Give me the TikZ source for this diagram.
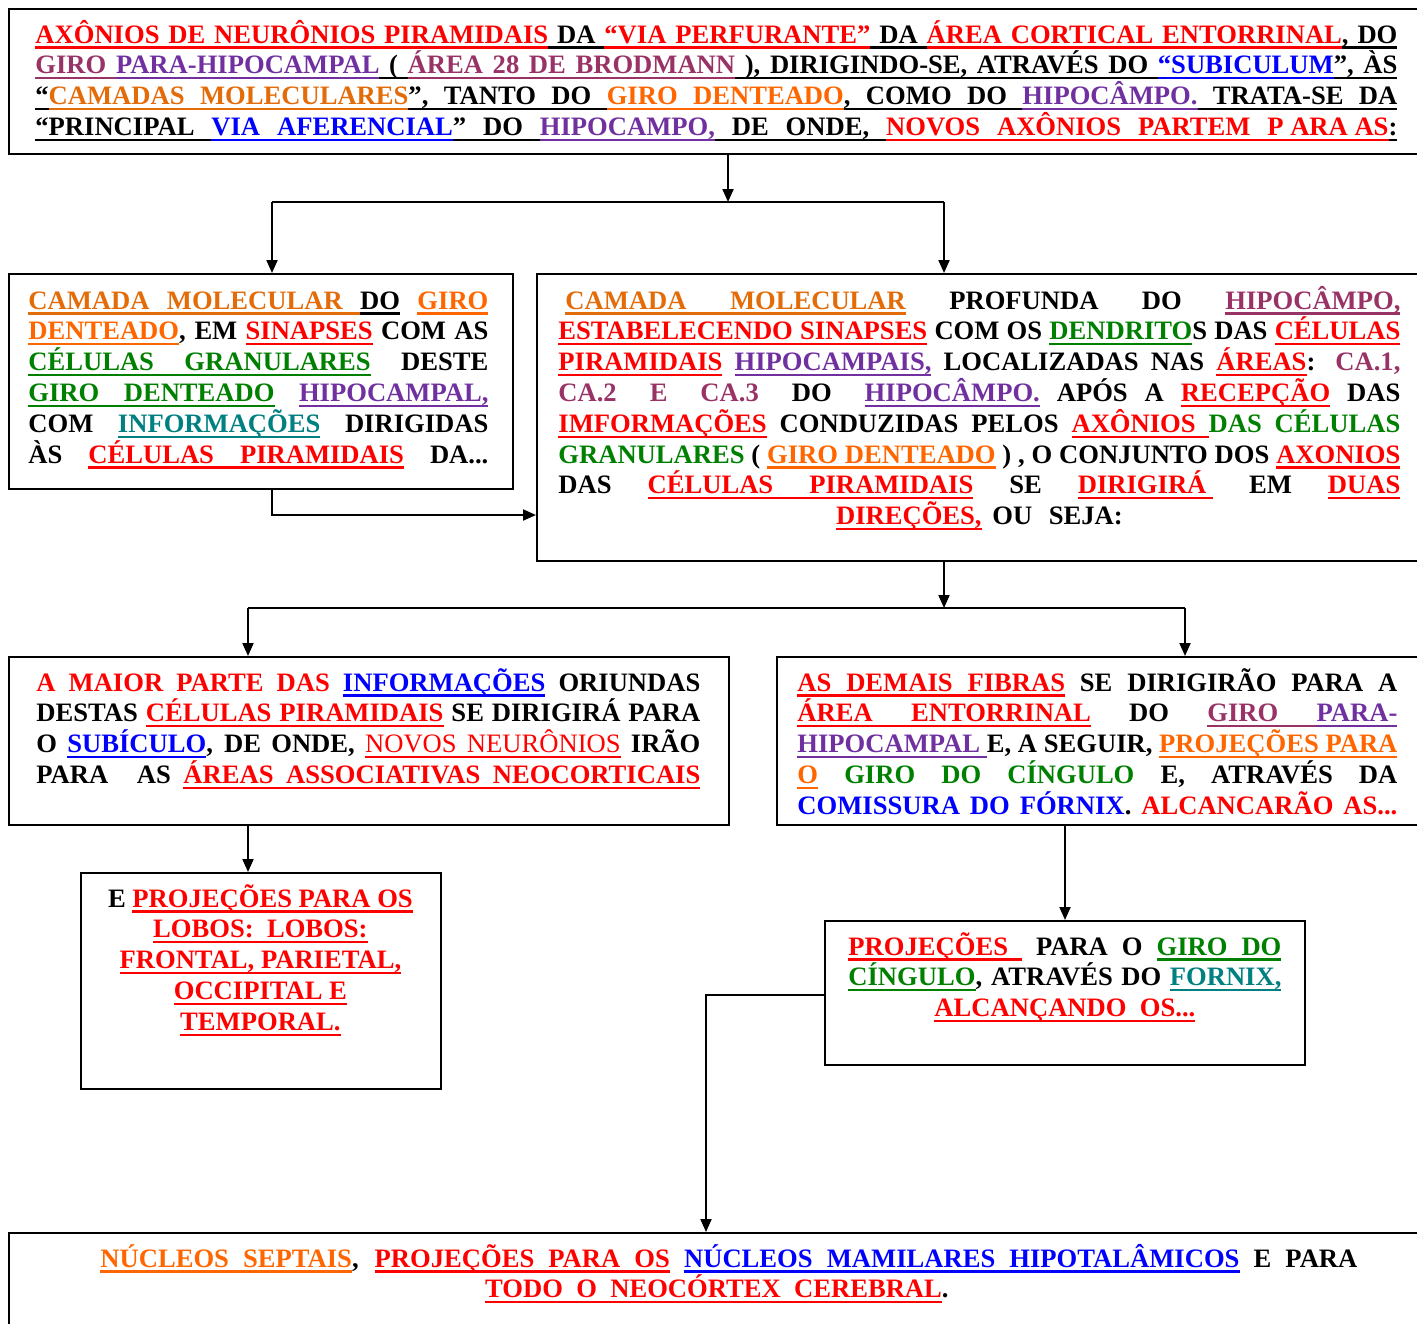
\documentclass[tikz,border=0pt]{standalone}
\usepackage{fontspec}
\setmainfont{Liberation Serif}
\usetikzlibrary{arrows.meta}

\definecolor{cRed}{HTML}{FF0000}
\definecolor{cBlack}{HTML}{000000}
\definecolor{cPurple}{HTML}{7030A0}
\definecolor{cPlum}{HTML}{993366}
\definecolor{cOrangeA}{HTML}{E36C09}
\definecolor{cOrangeB}{HTML}{FF6600}
\definecolor{cBlue}{HTML}{0000FF}
\definecolor{cGreen}{HTML}{008000}
\definecolor{cTeal}{HTML}{008080}

% underlining: words are boxed with a rule under them, spaces become
% stretchable leaders so that the rule follows justified spacing
\newdimen\uldp \uldp=1.7pt
\newdimen\ulth \ulth=1.1pt
\newbox\ulbx
\def\ulword#1{\setbox\ulbx\hbox{#1}%
  \rlap{\vrule width\wd\ulbx height -\uldp depth \dimexpr\uldp+\ulth\relax}\box\ulbx}
\def\ulspace{\leaders\hrule height -\uldp depth \dimexpr\uldp+\ulth\relax
  \hskip\fontdimen2\font plus\fontdimen3\font minus\fontdimen4\font\relax}
\def\ulparse#1 #2\ulend{\ulword{#1}\ifx\relax#2\relax\else\ulspace\ulparse#2\ulend\fi}

% coloured, underlined phrase / coloured phrase
\newcommand\U[2]{\textcolor{#1}{\ulparse#2 \ulend}}
\newcommand\T[2]{\textcolor{#1}{#2}}
% justified line and centred line
\newcommand\J[1]{\hbox to \hsize{#1}}
\newcommand\C[1]{\hbox to \hsize{\hfil#1\hfil}}
% block of lines, first baseline is the reference point
\newcommand\Blk[2]{\parbox[t]{#1pt}{\lineskiplimit=-100pt #2}}

\begin{document}
\begin{tikzpicture}[x=0.5pt,y=-0.5pt,
  box/.style={draw, line width=1pt, inner sep=0pt, anchor=north west},
  txt/.style={inner sep=0pt, anchor=base west,
    font=\fontsize{13.3pt}{15.4pt}\selectfont\bfseries},
  wire/.style={line width=1pt},
  arr/.style={line width=1pt, -{Triangle[length=6.5pt,width=5.5pt]}}]
\useasboundingbox (0,0) rectangle (1417,1323);

% ---------- frames ----------
\node[box, minimum width=712pt, minimum height=72.5pt] (top) at (8,8) {};
\node[box, minimum width=252pt, minimum height=107.5pt] (boxL) at (8,273) {};
\node[box, minimum width=445pt, minimum height=143.5pt] (boxR) at (536,273) {};
\node[box, minimum width=360pt, minimum height=84pt] (boxML) at (8,656) {};
\node[box, minimum width=325pt, minimum height=84pt] (boxMR) at (776,656) {};
\node[box, minimum width=180pt, minimum height=108pt] (boxLL) at (80,872) {};
\node[box, minimum width=240pt, minimum height=72pt] (boxLR) at (824,920) {};
\node[box, minimum width=712pt, minimum height=60pt] (bottom) at (8,1232) {};

% ---------- texts ----------
\node[txt] (tTop) at (35,43) {\Blk{681}{%
\J{\U{cRed}{AXÔNIOS DE NEURÔNIOS PIRAMIDAIS}\U{cBlack}{ DA }\U{cRed}{“VIA PERFURANTE”}\U{cBlack}{ DA }\U{cRed}{ÁREA CORTICAL ENTORRINAL}\U{cBlack}{, DO}}
\J{\U{cPlum}{GIRO }\U{cPurple}{PARA-HIPOCAMPAL}\U{cBlack}{ ( }\U{cPlum}{ÁREA 28 DE BRODMANN}\U{cBlack}{ ), DIRIGINDO-SE, ATRAVÉS DO }\U{cBlue}{“SUBICULUM}\U{cBlack}{”, ÀS}}
\J{\U{cBlack}{“}\U{cOrangeA}{CAMADAS MOLECULARES}\U{cBlack}{”, TANTO DO }\U{cOrangeB}{GIRO DENTEADO}\U{cBlack}{, COMO DO }\U{cPurple}{HIPOCÂMPO.}\U{cBlack}{ TRATA-SE DA}}
\J{\U{cBlack}{“PRINCIPAL }\U{cBlue}{VIA AFERENCIAL}\U{cBlack}{” DO }\U{cPurple}{HIPOCAMPO,}\U{cBlack}{ DE ONDE, }\U{cRed}{NOVOS AXÔNIOS PARTEM P~ARA~AS}\U{cBlack}{:}}
}};

\node[txt] (tL) at (28,309) {\Blk{230}{%
\J{\U{cOrangeA}{CAMADA MOLECULAR }\U{cBlack}{DO} \U{cOrangeB}{GIRO}}
\J{\U{cOrangeB}{DENTEADO}, EM \U{cRed}{SINAPSES} COM AS}
\J{\U{cGreen}{CÉLULAS GRANULARES} DESTE}
\J{\U{cGreen}{GIRO DENTEADO} \U{cPurple}{HIPOCAMPAL,}}
\J{COM \U{cTeal}{INFORMAÇÕES} DIRIGIDAS}
\J{ÀS \U{cRed}{CÉLULAS PIRAMIDAIS} DA...}
}};

\node[txt] (tR) at (558,309) {\Blk{421}{%
\J{\hspace{3.5pt}\U{cOrangeA}{CAMADA MOLECULAR} PROFUNDA DO \U{cPlum}{HIPOCÂMPO,}}
\J{\U{cRed}{ESTABELECENDO SINAPSES} COM OS \U{cGreen}{DENDRITO}S DAS \U{cRed}{CÉLULAS}}
\J{\U{cRed}{PIRAMIDAIS} \U{cPurple}{HIPOCAMPAIS,} LOCALIZADAS NAS \U{cRed}{ÁREAS}: \T{cPlum}{CA.1,}}
\J{\T{cPlum}{CA.2\hspace{8pt} E\hspace{8pt} CA.3}\hspace{8pt} DO\hspace{8pt} \U{cPurple}{HIPOCÂMPO.} APÓS A \U{cRed}{RECEPÇÃO} DAS}
\J{\U{cRed}{IMFORMAÇÕES} CONDUZIDAS PELOS \U{cRed}{AXÔNIOS }\T{cGreen}{DAS CÉLULAS}}
\J{\T{cGreen}{GRANULARES} ( \U{cOrangeB}{GIRO DENTEADO} ) , O CONJUNTO DOS \U{cRed}{AXONIOS}}
\J{DAS \U{cRed}{CÉLULAS PIRAMIDAIS} SE \U{cRed}{DIRIGIRÁ~} EM \U{cRed}{DUAS}}
\C{\U{cRed}{DIREÇÕES,}\hspace{2pt} OU\hspace{5pt} SEJA:}
}};

\node[txt] (tML) at (36,691) {\Blk{332}{%
\J{\T{cRed}{A MAIOR PARTE DAS} \U{cBlue}{INFORMAÇÕES} ORIUNDAS}
\J{DESTAS \U{cRed}{CÉLULAS PIRAMIDAIS} SE DIRIGIRÁ PARA}
\J{O \U{cBlue}{SUBÍCULO}, DE ONDE, {\mdseries\U{cRed}{NOVOS NEURÔNIOS}} IRÃO}
\J{PARA\hspace{8pt} AS \U{cRed}{ÁREAS ASSOCIATIVAS NEOCORTICAIS}}
}};

\node[txt] (tMR) at (797,691) {\Blk{300}{%
\J{\U{cRed}{AS DEMAIS FIBRAS} SE DIRIGIRÃO PARA A}
\J{\U{cRed}{ÁREA ENTORRINAL} DO \U{cPlum}{GIRO }\U{cPurple}{PARA-}}
\J{\U{cPurple}{HIPOCAMPAL }E, A SEGUIR, \U{cOrangeB}{PROJEÇÕES PARA}}
\J{\U{cOrangeB}{O} \T{cGreen}{GIRO DO CÍNGULO} E, ATRAVÉS DA}
\J{\T{cBlue}{COMISSURA DO FÓRNIX}. \T{cRed}{ALCANCARÃO AS...}}
}};

\node[txt] (tLL) at (95,907) {\Blk{165}{%
\C{E \U{cRed}{PROJEÇÕES PARA OS}}
\C{\U{cRed}{LOBOS:~ LOBOS:}}
\C{\U{cRed}{FRONTAL, PARIETAL,}}
\C{\U{cRed}{OCCIPITAL E}}
\C{\U{cRed}{TEMPORAL.}}
}};

\node[txt] (tLR) at (848,955) {\Blk{216.5}{%
\J{\U{cRed}{PROJEÇÕES } PARA O \U{cGreen}{GIRO DO}}
\J{\U{cGreen}{CÍNGULO}, ATRAVÉS DO \U{cTeal}{FORNIX,}}
\C{\U{cRed}{ALCANÇANDO~ OS...}}
}};

\node[txt] (tB) at (100,1267) {\Blk{628.5}{%
\J{\U{cOrangeB}{NÚCLEOS SEPTAIS}, \U{cRed}{PROJEÇÕES PARA OS} \U{cBlue}{NÚCLEOS MAMILARES HIPOTALÂMICOS} E PARA}
\C{\U{cRed}{TODO~ O~ NEOCÓRTEX~ CEREBRAL}.\hspace{12pt}}
}};

% ---------- connectors ----------
\coordinate (s1) at (728,202);
\coordinate (s2) at (272,202);
\coordinate (s3) at (944,202);
\draw[arr] (top.south -| s1) -- (s1);
\draw[wire] (s2) -- (s3);
\draw[arr] (s2) -- (boxL.north -| s2);
\draw[arr] (s3) -- (boxR.north -| s3);

\coordinate (s4) at (272,515);
\draw[arr] (boxL.south -| s4) |- (boxR.west |- s4);

\coordinate (s5) at (944,608);
\coordinate (s6) at (248,608);
\coordinate (s7) at (1185,608);
\draw[arr] (boxR.south -| s5) -- (s5);
\draw[wire] (s6) -- (s7);
\draw[arr] (s6) -- (boxML.north -| s6);
\draw[arr] (s7) -- (boxMR.north -| s7);

\draw[arr] (boxML.south -| s6) -- (boxLL.north -| s6);
\coordinate (s8) at (1065,824);
\draw[arr] (boxMR.south -| s8) -- (boxLR.north -| s8);

\coordinate (s9) at (706,995);
\draw[arr] (boxLR.west |- s9) -| (bottom.north -| s9);
\end{tikzpicture}
\end{document}
